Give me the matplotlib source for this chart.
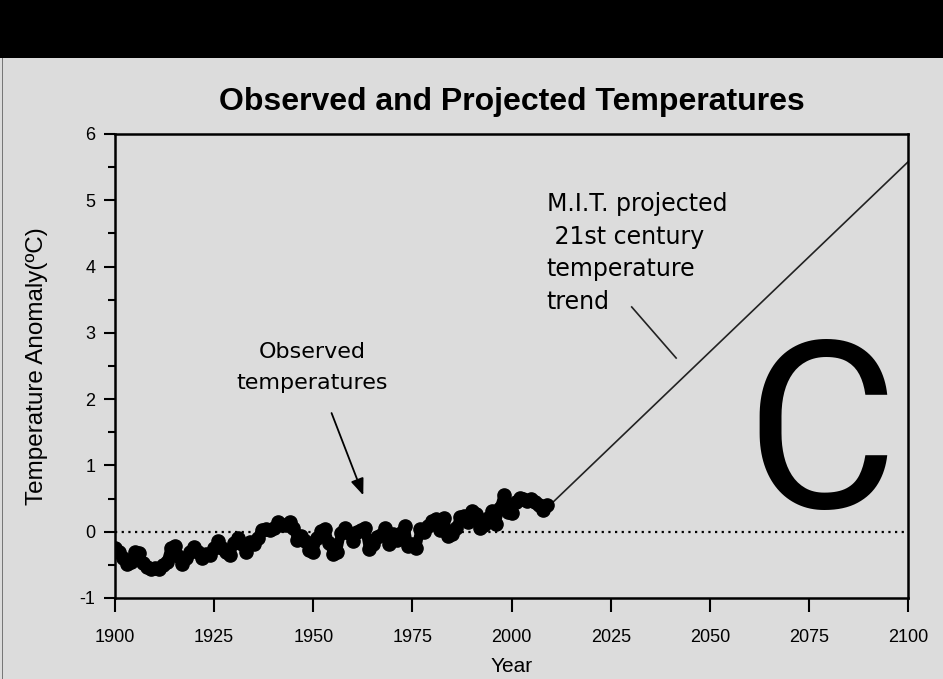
import matplotlib
matplotlib.use("Agg")
import matplotlib.pyplot as plt
from matplotlib.patches import Rectangle

plt.rcParams['axes.unicode_minus'] = False

# Observed annual temperature anomalies (deg C)
obs_years = list(range(1900, 2010))
obs_temps = [
    -0.24, -0.30, -0.40, -0.49, -0.45, -0.30, -0.32, -0.47, -0.53, -0.56,
    -0.54, -0.56, -0.50, -0.45, -0.24, -0.22, -0.37, -0.49, -0.40, -0.30,
    -0.23, -0.30, -0.39, -0.33, -0.35, -0.25, -0.14, -0.24, -0.30, -0.35,
    -0.17, -0.09, -0.18, -0.30, -0.15, -0.18, -0.10, 0.02, 0.04, 0.02,
    0.06, 0.14, 0.10, 0.10, 0.14, 0.05, -0.12, -0.06, -0.14, -0.28,
    -0.30, -0.10, 0.01, 0.04, -0.17, -0.33, -0.30, -0.02, 0.06, -0.02,
    -0.14, 0.00, 0.02, 0.06, -0.26, -0.18, -0.08, -0.05, 0.06, -0.19,
    -0.04, -0.12, -0.02, 0.09, -0.22, -0.18, -0.24, 0.04, 0.00, 0.08,
    0.16, 0.19, 0.02, 0.21, -0.06, -0.04, 0.06, 0.22, 0.24, 0.14,
    0.31, 0.26, 0.06, 0.10, 0.20, 0.31, 0.11, 0.36, 0.56, 0.30,
    0.28, 0.45, 0.51, 0.50, 0.47, 0.50, 0.45, 0.41, 0.32, 0.40,
]

# M.I.T. projected trend (end points)
proj_years = [2010, 2100]
proj_temps = [0.42, 5.58]

x_ticks = [1900, 1925, 1950, 1975, 2000, 2025, 2050, 2075, 2100]
y_ticks = [-1, 0, 1, 2, 3, 4, 5, 6]

BG = '#dcdcdc'
ARIAL = ['Liberation Sans', 'DejaVu Sans']

fig = plt.figure(figsize=(9.43, 6.79), dpi=100, facecolor=BG)

# black band at the top and thin frame on the left
fig.patches.append(Rectangle((0, 0.9146), 1, 0.0854, transform=fig.transFigure,
                             facecolor='black', edgecolor='none', zorder=0))
fig.patches.append(Rectangle((0.002, 0), 0.0012, 0.9146, transform=fig.transFigure,
                             facecolor='#777777', edgecolor='none', zorder=0))

ax = fig.add_axes([0.122, 0.1193, 0.841, 0.6834], facecolor=BG)

ax.axhline(0, color='black', linestyle=(0, (1, 2)), linewidth=1.6, zorder=1)
ax.plot(obs_years, obs_temps, color='black', linewidth=7, marker='o',
        markersize=9.5, solid_joinstyle='round', solid_capstyle='round', zorder=3)
ax.plot(proj_years, proj_temps, color='#222222', linewidth=1.2, zorder=2)

ax.set_xlim(1900, 2100)
ax.set_ylim(-1, 6)
ax.set_xticks(x_ticks)
ax.set_yticks(y_ticks)
ax.set_yticks([v + 0.5 for v in y_ticks[:-1]], minor=True)

ax.tick_params(axis='x', direction='out', length=10, width=1.5, pad=12)
ax.tick_params(axis='y', which='major', direction='out', length=8, width=1.5, pad=6)
ax.tick_params(axis='y', which='minor', direction='out', length=5, width=1.5)
for lab in ax.get_xticklabels() + ax.get_yticklabels():
    lab.set_family(ARIAL)
    lab.set_fontsize(13)

for sp in ax.spines.values():
    sp.set_linewidth(1.8)

ax.set_title('Observed and Projected Temperatures', family=ARIAL,
             fontsize=23, fontweight='bold', pad=17)
ax.set_xlabel('Year', family=ARIAL, fontsize=15, labelpad=8)
ax.set_ylabel('Temperature Anomaly(\u00baC)', family=ARIAL, fontsize=17.5, labelpad=23)

# annotations
ax.annotate('', xy=(1962.6, 0.55), xytext=(1954.6, 1.79),
            arrowprops=dict(arrowstyle='-|>,head_length=1.0,head_width=0.4',
                            color='black', linewidth=1.3, shrinkA=0, shrinkB=0))
ax.text(1949.7, 2.86, 'Observed\ntemperatures', ha='center', va='top',
        family=['DejaVu Sans'], fontsize=16, linespacing=1.65)

ax.plot([2030.3, 2041.5], [3.39, 2.62], color='#222222', linewidth=1.2)
ax.text(2008.9, 5.12, 'M.I.T. projected\n 21st century\ntemperature\ntrend',
        ha='left', va='top', family=['DejaVu Sans'], fontsize=17,
        linespacing=1.45)

# big panel letter
fig.text(0.871, 0.2525, 'C', ha='center', va='baseline',
         family=['Roboto', 'DejaVu Sans'], fontsize=168, color='black')

fig.savefig('out.png', dpi=100, facecolor=BG)
